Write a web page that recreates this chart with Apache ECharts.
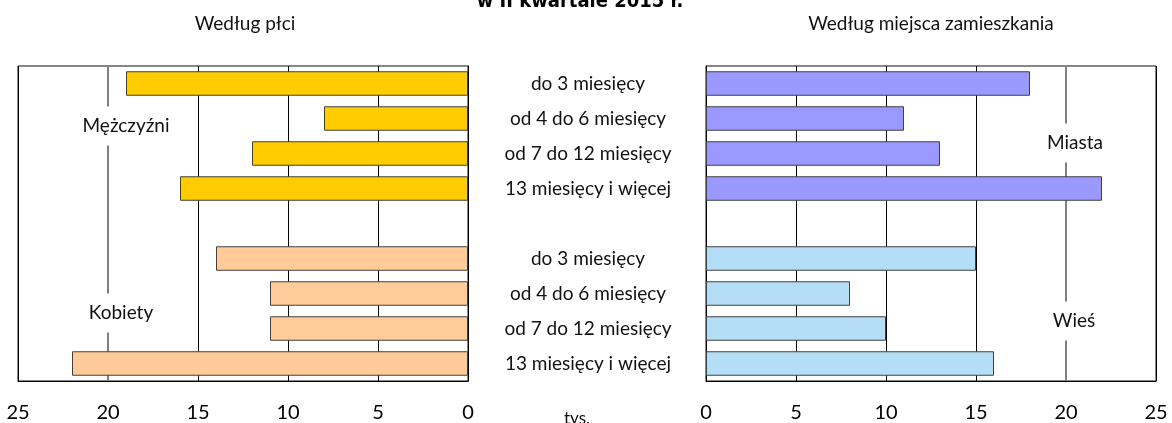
<!DOCTYPE html>
<html>
<head>
<meta charset="utf-8">
<script src="https://cdn.jsdelivr.net/npm/echarts@6/dist/echarts.min.js"></script>
<style>
  html, body { margin: 0; padding: 0; background: #fff; }
  #main { width: 1172px; height: 423px; }
</style>
</head>
<body>
<div id="main"></div>
<script>
var durations = ['do 3 miesięcy', 'od 4 do 6 miesięcy', 'od 7 do 12 miesięcy', '13 miesięcy i więcej'];
var men = [19, 8, 12, 16];
var women = [14, 11, 11, 22];
var towns = [18, 11, 13, 22];
var village = [15, 8, 10, 16];
var xTicks = [0, 5, 10, 15, 20, 25];

// 4 + empty slot + 4
var cats = durations.concat(['']).concat(durations);
function upper(arr) { return arr.concat([null, null, null, null, null]); }
function lower(arr) { return [null, null, null, null, null].concat(arr); }

var font = 'Lato, "Open Sans", sans-serif';
var gridColors = ['#000', '#000', '#000', '#000', 'rgba(0,0,0,0)', '#000'];

var chart = echarts.init(document.getElementById('main'));

function xAxis(idx, inverse) {
  return {
    type: 'value', gridIndex: idx, min: 0, max: 25, interval: 5, inverse: inverse,
    axisLine: { show: true, lineStyle: { color: '#000', width: 1 } },
    axisTick: { show: false },
    axisLabel: { color: '#000', fontSize: 20, fontFamily: font, margin: 22,
      formatter: function (v) { return xTicks.indexOf(v) >= 0 ? String(v) : ''; } },
    splitLine: { show: true, lineStyle: { color: gridColors, width: 1 } }
  };
}

function barStyle(color) {
  return { color: color, borderColor: '#404040', borderWidth: 1 };
}

// gray line at 20 thousand, kept under the bars
var line20 = {
  z: 1, silent: true, symbol: 'none', label: { show: false },
  lineStyle: { color: '#808080', width: 2, type: 'solid' },
  data: [{ xAxis: 20 }]
};

var option = {
  animation: false,
  backgroundColor: '#fff',
  grid: [
    { left: 18, width: 450, top: 66, height: 315, show: true, borderColor: '#111', borderWidth: 1, backgroundColor: 'transparent' },
    { left: 706, width: 450, top: 66, height: 315, show: true, borderColor: '#111', borderWidth: 1, backgroundColor: 'transparent' }
  ],
  xAxis: [xAxis(0, true), xAxis(1, false)],
  yAxis: [
    { type: 'category', gridIndex: 0, data: cats, inverse: true, position: 'right',
      axisLine: { show: true, lineStyle: { color: '#000' } }, axisTick: { show: false }, axisLabel: { show: false } },
    { type: 'category', gridIndex: 1, data: cats, inverse: true,
      axisLine: { show: true, lineStyle: { color: '#000' } }, axisTick: { show: false },
      axisLabel: { show: true, align: 'center', margin: 118, color: '#111', fontSize: 19, fontFamily: font, interval: 0 } }
  ],
  series: [
    { type: 'bar', name: 'Mężczyźni', xAxisIndex: 0, yAxisIndex: 0, stack: 'p', data: upper(men),
      barCategoryGap: '30%', itemStyle: barStyle('#ffcc00'), markLine: line20 },
    { type: 'bar', name: 'Kobiety', xAxisIndex: 0, yAxisIndex: 0, stack: 'p', data: lower(women),
      barCategoryGap: '30%', itemStyle: barStyle('#ffcc99') },
    { type: 'bar', name: 'Miasta', xAxisIndex: 1, yAxisIndex: 1, stack: 'm', data: upper(towns),
      barCategoryGap: '30%', itemStyle: barStyle('#9999ff'), markLine: line20 },
    { type: 'bar', name: 'Wieś', xAxisIndex: 1, yAxisIndex: 1, stack: 'm', data: lower(village),
      barCategoryGap: '30%', itemStyle: barStyle('#b3def5') }
  ],
  graphic: [
    { type: 'text', z: 100, x: 580, y: 2, style: { text: 'w II kwartale 2015 r.', fill: '#000',
      font: 'bold 20px "Liberation Sans Narrow", "DejaVu Sans Condensed", sans-serif', align: 'center', verticalAlign: 'middle' } },
    { type: 'text', z: 100, x: 245, y: 24, style: { text: 'Według płci', fill: '#111',
      font: '19px ' + font, align: 'center', verticalAlign: 'middle' } },
    { type: 'text', z: 100, x: 931, y: 24, style: { text: 'Według miejsca zamieszkania', fill: '#111',
      font: '19px ' + font, align: 'center', verticalAlign: 'middle' } },
    { type: 'text', z: 100, x: 126, y: 126, style: { text: 'Mężczyźni', fill: '#111', backgroundColor: '#fff',
      padding: [10, 2], font: '19px ' + font, align: 'center', verticalAlign: 'middle' } },
    { type: 'text', z: 100, x: 121, y: 313, style: { text: 'Kobiety', fill: '#111', backgroundColor: '#fff',
      padding: [10, 2], font: '19px ' + font, align: 'center', verticalAlign: 'middle' } },
    { type: 'text', z: 100, x: 1075, y: 143, style: { text: 'Miasta', fill: '#111', backgroundColor: '#fff',
      padding: [10, 2], font: '19px ' + font, align: 'center', verticalAlign: 'middle' } },
    { type: 'text', z: 100, x: 1074, y: 321, style: { text: 'Wieś', fill: '#111', backgroundColor: '#fff',
      padding: [10, 2], font: '19px ' + font, align: 'center', verticalAlign: 'middle' } },
    { type: 'text', z: 100, x: 577, y: 419, style: { text: 'tys.', fill: '#111',
      font: '17px ' + font, align: 'center', verticalAlign: 'middle' } }
  ]
};

chart.setOption(option);
</script>
</body>
</html>
